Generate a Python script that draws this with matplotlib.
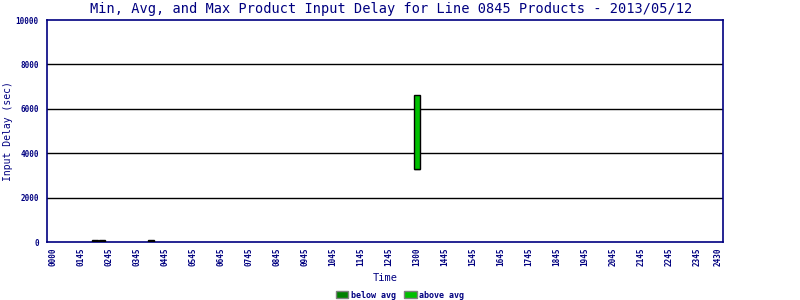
import matplotlib
matplotlib.use("Agg")
import matplotlib.pyplot as plt
from matplotlib.patches import Patch

# time slots (15 min steps on a categorical axis)
tick_slots = [0, 4, 8, 12, 16, 20, 24, 28, 32, 36, 40, 44, 48, 52, 56, 60,
              64, 68, 72, 76, 80, 84, 88, 92, 95]
tick_labels = ["0000", "0145", "0245", "0345", "0445", "0545", "0645", "0745",
               "0845", "0945", "1045", "1145", "1245", "1300", "1445", "1545",
               "1645", "1745", "1845", "1945", "2045", "2145", "2245", "2345", "2430"]

# bars: slot, min, avg, max delay (sec)
bar_slots = [6, 7, 14, 52]
delay_min = [20, 20, 20, 3300]
delay_avg = [50, 50, 50, 3300]
delay_max = [80, 80, 80, 6600]

navy = "#000080"
dark_green = "#008000"
light_green = "#00c000"
mono = "DejaVu Sans Mono"

fig = plt.figure(figsize=(8, 3), dpi=100)
ax = fig.add_axes([0.05875, 0.1933, 0.845, 0.74])

# below avg part (min -> avg) and above avg part (avg -> max)
below = [a - m for a, m in zip(delay_avg, delay_min)]
above = [x - a for x, a in zip(delay_max, delay_avg)]
ax.bar(bar_slots, below, bottom=delay_min, width=0.8, color=dark_green,
       edgecolor="black", linewidth=1, zorder=3)
ax.bar(bar_slots, above, bottom=delay_avg, width=0.8, color=light_green,
       edgecolor="black", linewidth=1, zorder=3)

ax.set_xlim(-0.86, 95.71)
ax.set_ylim(0, 10000)
ax.set_yticks([0, 2000, 4000, 6000, 8000, 10000])
ax.set_xticks(tick_slots)
ax.set_xticklabels(tick_labels, rotation=90, fontfamily=mono,
                   fontsize=5.5, fontweight="bold", color=navy)
for lbl in ax.get_yticklabels():
    lbl.set_fontfamily(mono)
    lbl.set_fontsize(5.5)
    lbl.set_fontweight("bold")
    lbl.set_color(navy)
ax.tick_params(axis="both", length=0)
ax.tick_params(axis="y", pad=6)
ax.tick_params(axis="x", pad=4)

# gridlines
for yv in [2000, 4000, 6000, 8000]:
    ax.axhline(yv, color="black", linewidth=1, zorder=1)

for s in ax.spines.values():
    s.set_color(navy)
    s.set_linewidth(1.2)

fig.text(391 / 800, 1 - 9 / 300,
         "Min, Avg, and Max Product Input Delay for Line 0845 Products - 2013/05/12",
         ha="center", va="center", fontfamily=mono, fontsize=9.8, color=navy)
fig.text(8 / 800, 1 - 131 / 300, "Input Delay (sec)", rotation=90,
         ha="center", va="center", fontfamily=mono, fontsize=7, color=navy)
fig.text(385 / 800, 1 - 278 / 300, "Time", ha="center", va="center",
         fontfamily=mono, fontsize=7.5, color=navy)

handles = [Patch(facecolor=dark_green, edgecolor="gray", label="below avg"),
           Patch(facecolor=light_green, edgecolor="gray", label="above avg")]
leg = fig.legend(handles=handles, loc="center", bbox_to_anchor=(400 / 800, 1 - 295 / 300),
                 ncol=2, frameon=False, handlelength=1.5, handleheight=0.9,
                 handletextpad=0.3, columnspacing=1.0, borderpad=0,
                 prop={"family": mono, "size": 6, "weight": "bold"})
for t in leg.get_texts():
    t.set_color(navy)

fig.savefig("out.png", dpi=100)
